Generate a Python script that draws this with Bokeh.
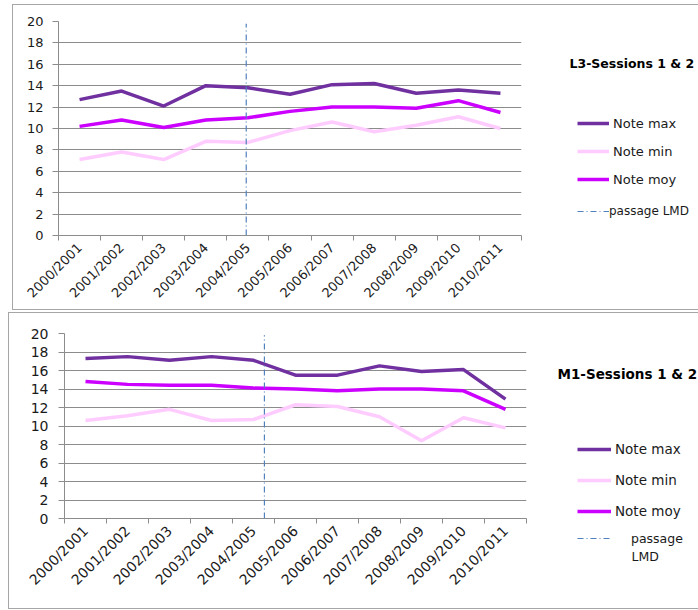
from math import pi
import numpy as np
from bokeh.plotting import figure
from bokeh.models import Range1d, FixedTicker, Legend, LegendItem, Label, Spacer
from bokeh.layouts import column, row
from bokeh.embed import file_html
from bokeh.resources import INLINE

# ---- data ----
years = ["2000/2001", "2001/2002", "2002/2003", "2003/2004", "2004/2005", "2005/2006",
         "2006/2007", "2007/2008", "2008/2009", "2009/2010", "2010/2011"]

l3_max = [12.7, 13.5, 12.1, 14.0, 13.8, 13.2, 14.1, 14.2, 13.3, 13.6, 13.3]
l3_min = [7.1, 7.8, 7.1, 8.8, 8.7, 9.8, 10.6, 9.7, 10.3, 11.1, 10.0]
l3_moy = [10.2, 10.8, 10.1, 10.8, 11.0, 11.6, 12.0, 12.0, 11.9, 12.6, 11.5]
l3_lmd_x = [4.46, 4.46]
l3_lmd_y = [0, 19.8]

m1_max = [17.3, 17.5, 17.1, 17.5, 17.1, 15.5, 15.5, 16.5, 15.9, 16.1, 12.9]
m1_min = [10.6, 11.1, 11.8, 10.6, 10.7, 12.3, 12.1, 11.0, 8.4, 10.9, 9.8]
m1_moy = [14.8, 14.5, 14.4, 14.4, 14.1, 14.0, 13.8, 14.0, 14.0, 13.8, 11.8]
m1_lmd_x = [4.76, 4.76]
m1_lmd_y = [0, 19.8]

y_ticks = list(range(0, 21, 2))

COL_MAX = "#7030A0"
COL_MIN = "#FFCCFF"
COL_MOY = "#CC00FF"
COL_LMD = "#4F81BD"
GRID = "#8c8c8c"
FONT = "DejaVu Sans"
TXT = "#1a1a1a"
LW = 3.5
LMD_DASH = "6 3 1 3"


def no_align(fig):
    if "frame_align" in fig.properties():
        fig.frame_align = False


def make_plot(s_max, s_min, s_moy, lmd_x, lmd_y, width, height, left, top, bottom,
              fs, standoff):
    n = len(years)
    p = figure(width=width, height=height, output_backend="svg", toolbar_location=None,
               x_range=Range1d(0, n), y_range=Range1d(0, 20),
               min_border_left=left, min_border_right=1, min_border_top=top,
               min_border_bottom=bottom, outline_line_color=None)
    no_align(p)
    xs = [i + 0.5 for i in range(n)]

    p.xaxis.ticker = FixedTicker(ticks=xs, minor_ticks=list(range(n + 1)))
    p.xaxis.major_label_overrides = {x: y for x, y in zip(xs, years)}
    p.xaxis.major_label_orientation = pi / 4
    p.xaxis.major_tick_line_color = None
    p.xaxis.major_tick_out = 3
    p.xaxis.minor_tick_out = 5
    p.xaxis.minor_tick_in = 0
    p.xaxis.minor_tick_line_color = GRID
    p.xaxis.axis_line_color = GRID
    p.xaxis.major_label_text_font = FONT
    p.xaxis.major_label_text_font_size = fs
    p.xaxis.major_label_text_color = TXT

    p.yaxis.ticker = FixedTicker(ticks=y_ticks)
    p.yaxis.minor_tick_line_color = None
    p.yaxis.axis_line_color = GRID
    p.yaxis.major_tick_line_color = GRID
    p.yaxis.major_tick_out = 6
    p.yaxis.major_tick_in = 0
    p.yaxis.major_label_standoff = standoff
    p.yaxis.major_label_text_font = FONT
    p.yaxis.major_label_text_font_size = fs
    p.yaxis.major_label_text_color = TXT

    p.xgrid.visible = False
    p.ygrid.grid_line_color = GRID

    p.line(xs, s_max, line_color=COL_MAX, line_width=LW)
    p.line(xs, s_min, line_color=COL_MIN, line_width=LW)
    p.line(xs, s_moy, line_color=COL_MOY, line_width=LW)
    p.line(lmd_x, lmd_y, line_color=COL_LMD, line_width=1.2, line_dash=LMD_DASH)
    return p


def make_side(title, width, height, title_xy, title_fs, leg_loc, leg_fs, leg_spacing,
              glyph_w, lmd_loc, lmd_label, lmd_fs, lmd_standoff, extra=None):
    q = figure(width=width, height=height, output_backend="svg", toolbar_location=None,
               x_range=Range1d(0, width), y_range=Range1d(0, height),
               x_axis_location=None, y_axis_location=None,
               min_border=0, outline_line_color=None)
    no_align(q)
    q.grid.visible = False
    # legend key glyphs only (a single undefined point, nothing is drawn in the area)
    nan = np.array([np.nan])
    g_max = q.line(nan, nan, line_color=COL_MAX, line_width=LW)
    g_min = q.line(nan, nan, line_color=COL_MIN, line_width=LW)
    g_moy = q.line(nan, nan, line_color=COL_MOY, line_width=LW)
    g_lmd = q.line(nan, nan, line_color=COL_LMD, line_width=1.2, line_dash=LMD_DASH)

    leg = Legend(items=[LegendItem(label="Note max", renderers=[g_max]),
                        LegendItem(label="Note min", renderers=[g_min]),
                        LegendItem(label="Note moy", renderers=[g_moy])],
                 location=leg_loc, padding=0, margin=0, spacing=leg_spacing,
                 glyph_width=glyph_w, glyph_height=20, label_height=20, label_standoff=4,
                 label_text_font=FONT, label_text_font_size=leg_fs,
                 label_text_color=TXT,
                 border_line_color=None, background_fill_alpha=0)
    q.add_layout(leg)
    leg2 = Legend(items=[LegendItem(label=lmd_label, renderers=[g_lmd])],
                  location=lmd_loc, padding=0, margin=0,
                  glyph_width=glyph_w, glyph_height=20, label_height=20,
                  label_standoff=lmd_standoff,
                  label_text_font=FONT, label_text_font_size=lmd_fs,
                  label_text_color=TXT,
                  border_line_color=None, background_fill_alpha=0)
    q.add_layout(leg2)
    if extra is not None:
        q.add_layout(Label(x=extra[0], y=extra[1], text=extra[2], text_font=FONT,
                           text_font_size=lmd_fs, text_baseline="middle",
                           text_color=TXT))
    q.add_layout(Label(x=title_xy[0], y=title_xy[1], text=title, text_font=FONT,
                       text_font_size=title_fs, text_font_style="bold",
                       text_baseline="middle", text_color="#000000"))
    return q


FRAME = {"outline": "1px solid #a6a6a6"}

p1 = make_plot(l3_max, l3_min, l3_moy, l3_lmd_x, l3_lmd_y, width=509, height=304,
               left=45, top=16, bottom=74, fs="13px", standoff=9)
s1 = make_side("L3-Sessions 1 & 2", width=176, height=304, title_xy=(47, 246),
               title_fs="12.5px", leg_loc=(55, 120), leg_fs="13px", leg_spacing=8,
               glyph_w=32, lmd_loc=(55, 88), lmd_label="passage LMD", lmd_fs="12px",
               lmd_standoff=0)

p2 = make_plot(m1_max, m1_min, m1_moy, m1_lmd_x, m1_lmd_y, width=518, height=295,
               left=55, top=20, bottom=90, fs="14px", standoff=10)
s2 = make_side("M1-Sessions 1 & 2", width=171, height=295, title_xy=(30, 235),
               title_fs="13.5px", leg_loc=(50, 87), leg_fs="13.5px", leg_spacing=11,
               glyph_w=34, lmd_loc=(50, 60), lmd_label="passage", lmd_fs="12.5px",
               lmd_standoff=20, extra=(104, 52, "LMD"))

layout = column(
    Spacer(width=10, height=5),
    row(Spacer(width=13, height=10), row(p1, s1, styles=FRAME)),
    Spacer(width=10, height=4),
    row(Spacer(width=9, height=10), row(p2, s2, styles=FRAME)),
)
open("out.html", "w").write(file_html(layout, INLINE))
